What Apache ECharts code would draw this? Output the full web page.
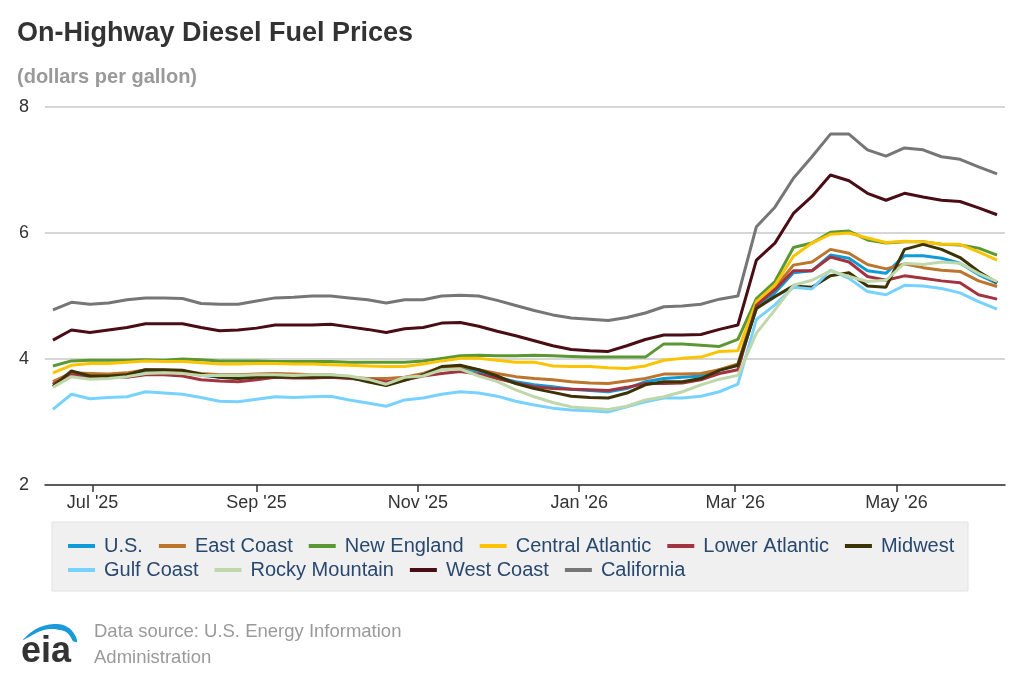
<!DOCTYPE html>
<html>
<head>
<meta charset="utf-8">
<title>On-Highway Diesel Fuel Prices</title>
<script src="https://cdn.jsdelivr.net/npm/echarts@6/dist/echarts.min.js"></script>
<style>
  html, body { margin: 0; padding: 0; background: #fff; }
  #chartsDiv { width: 1024px; height: 683px; }
</style>
</head>
<body>
<div id="chartsDiv"></div>
<script>
// weekly survey dates (Mondays)
var weeks = [
  '2025-06-16', '2025-06-23', '2025-06-30', '2025-07-07', '2025-07-14', '2025-07-21', '2025-07-28',
  '2025-08-04', '2025-08-11', '2025-08-18', '2025-08-25', '2025-09-01', '2025-09-08', '2025-09-15',
  '2025-09-22', '2025-09-29', '2025-10-06', '2025-10-13', '2025-10-20', '2025-10-27', '2025-11-03',
  '2025-11-10', '2025-11-17', '2025-11-24', '2025-12-01', '2025-12-08', '2025-12-15', '2025-12-22',
  '2025-12-29', '2026-01-05', '2026-01-12', '2026-01-19', '2026-01-26', '2026-02-02', '2026-02-09',
  '2026-02-16', '2026-02-23', '2026-03-02', '2026-03-09', '2026-03-16', '2026-03-23', '2026-03-30',
  '2026-04-06', '2026-04-13', '2026-04-20', '2026-04-27', '2026-05-04', '2026-05-11', '2026-05-18',
  '2026-05-25', '2026-06-01', '2026-06-08'
]
var tickDates = ['2025-07-01', '2025-09-01', '2025-11-01', '2026-01-01', '2026-03-01', '2026-05-01']
var axisStart = '2025-06-13'
var axisEnd = '2026-06-11'
var priceTicks = [2, 4, 6, 8]

var usPrices = [3.59, 3.77, 3.73, 3.73, 3.75, 3.80, 3.80, 3.79, 3.74, 3.71, 3.70, 3.72, 3.73, 3.72, 3.71, 3.72, 3.70, 3.66, 3.62, 3.69, 3.76, 3.87, 3.86, 3.80, 3.71, 3.64, 3.59, 3.56, 3.52, 3.50, 3.48, 3.53, 3.64, 3.69, 3.71, 3.73, 3.83, 3.90, 4.80, 5.05, 5.37, 5.40, 5.65, 5.60, 5.40, 5.36, 5.64, 5.64, 5.60, 5.52, 5.34, 5.20]
var eastCoast = [3.64, 3.78, 3.77, 3.76, 3.78, 3.83, 3.82, 3.81, 3.77, 3.75, 3.75, 3.76, 3.77, 3.76, 3.75, 3.75, 3.71, 3.69, 3.69, 3.71, 3.77, 3.87, 3.88, 3.83, 3.77, 3.72, 3.69, 3.67, 3.64, 3.62, 3.61, 3.65, 3.69, 3.76, 3.76, 3.77, 3.83, 3.92, 4.88, 5.13, 5.49, 5.54, 5.74, 5.68, 5.50, 5.43, 5.51, 5.45, 5.41, 5.39, 5.24, 5.15]
var newEngland = [3.89, 3.97, 3.98, 3.98, 3.98, 3.99, 3.98, 4.00, 3.99, 3.97, 3.97, 3.97, 3.96, 3.96, 3.96, 3.96, 3.95, 3.95, 3.95, 3.95, 3.97, 4.01, 4.05, 4.06, 4.05, 4.05, 4.06, 4.05, 4.04, 4.03, 4.03, 4.03, 4.03, 4.24, 4.24, 4.22, 4.20, 4.31, 4.96, 5.23, 5.77, 5.84, 6.01, 6.03, 5.89, 5.84, 5.86, 5.86, 5.82, 5.81, 5.76, 5.65]
var centralAtlantic = [3.78, 3.90, 3.93, 3.93, 3.95, 3.97, 3.96, 3.96, 3.94, 3.92, 3.92, 3.93, 3.93, 3.92, 3.92, 3.91, 3.90, 3.89, 3.88, 3.88, 3.92, 3.97, 4.01, 4.01, 3.98, 3.95, 3.95, 3.89, 3.88, 3.88, 3.86, 3.85, 3.89, 3.98, 4.01, 4.03, 4.12, 4.13, 4.91, 5.17, 5.63, 5.84, 5.98, 6.00, 5.92, 5.85, 5.87, 5.86, 5.82, 5.82, 5.70, 5.57]
var lowerAtlantic = [3.60, 3.75, 3.72, 3.71, 3.71, 3.75, 3.75, 3.73, 3.67, 3.65, 3.64, 3.67, 3.71, 3.70, 3.70, 3.71, 3.69, 3.68, 3.64, 3.67, 3.73, 3.77, 3.80, 3.76, 3.69, 3.62, 3.56, 3.53, 3.52, 3.51, 3.50, 3.55, 3.61, 3.61, 3.62, 3.67, 3.77, 3.83, 4.85, 5.10, 5.40, 5.40, 5.62, 5.54, 5.31, 5.25, 5.32, 5.28, 5.24, 5.21, 5.02, 4.95]
var midwest = [3.56, 3.81, 3.73, 3.73, 3.75, 3.83, 3.83, 3.82, 3.76, 3.71, 3.69, 3.71, 3.72, 3.71, 3.71, 3.72, 3.71, 3.64, 3.58, 3.66, 3.75, 3.88, 3.90, 3.83, 3.73, 3.61, 3.53, 3.47, 3.41, 3.39, 3.38, 3.46, 3.59, 3.64, 3.64, 3.69, 3.82, 3.90, 4.80, 4.99, 5.16, 5.14, 5.32, 5.37, 5.16, 5.14, 5.74, 5.82, 5.74, 5.61, 5.39, 5.21]
var gulfCoast = [3.20, 3.44, 3.37, 3.39, 3.40, 3.48, 3.46, 3.44, 3.39, 3.33, 3.32, 3.36, 3.40, 3.39, 3.40, 3.41, 3.35, 3.30, 3.25, 3.35, 3.38, 3.44, 3.48, 3.46, 3.41, 3.33, 3.27, 3.22, 3.19, 3.18, 3.16, 3.24, 3.32, 3.38, 3.38, 3.41, 3.48, 3.60, 4.63, 4.86, 5.14, 5.11, 5.41, 5.28, 5.07, 5.02, 5.17, 5.16, 5.12, 5.05, 4.91, 4.79]
var rockyMountain = [3.55, 3.72, 3.68, 3.69, 3.72, 3.77, 3.78, 3.77, 3.74, 3.74, 3.74, 3.75, 3.75, 3.74, 3.75, 3.75, 3.73, 3.68, 3.60, 3.71, 3.73, 3.83, 3.84, 3.73, 3.64, 3.51, 3.40, 3.31, 3.24, 3.22, 3.20, 3.25, 3.35, 3.40, 3.48, 3.59, 3.68, 3.74, 4.41, 4.78, 5.17, 5.25, 5.40, 5.31, 5.23, 5.25, 5.52, 5.50, 5.54, 5.52, 5.36, 5.23]
var westCoast = [4.30, 4.46, 4.42, 4.46, 4.50, 4.56, 4.56, 4.56, 4.50, 4.45, 4.46, 4.49, 4.54, 4.54, 4.54, 4.55, 4.51, 4.47, 4.42, 4.48, 4.50, 4.57, 4.58, 4.52, 4.44, 4.37, 4.29, 4.21, 4.15, 4.13, 4.12, 4.21, 4.31, 4.38, 4.38, 4.39, 4.47, 4.54, 5.57, 5.84, 6.31, 6.58, 6.92, 6.83, 6.63, 6.52, 6.63, 6.57, 6.52, 6.50, 6.40, 6.29]
var california = [4.78, 4.90, 4.87, 4.89, 4.94, 4.97, 4.97, 4.96, 4.88, 4.87, 4.87, 4.92, 4.97, 4.98, 5.00, 5.00, 4.97, 4.94, 4.89, 4.94, 4.94, 5.00, 5.01, 5.00, 4.93, 4.85, 4.77, 4.70, 4.65, 4.63, 4.61, 4.66, 4.73, 4.83, 4.84, 4.87, 4.95, 5.00, 6.10, 6.41, 6.87, 7.21, 7.57, 7.57, 7.32, 7.22, 7.35, 7.32, 7.21, 7.17, 7.05, 6.94]

var seriesNames = ['U.S.', 'East Coast', 'New England', 'Central Atlantic', 'Lower Atlantic', 'Midwest', 'Gulf Coast', 'Rocky Mountain', 'West Coast', 'California']
var seriesValues = [usPrices, eastCoast, newEngland, centralAtlantic, lowerAtlantic, midwest, gulfCoast, rockyMountain, westCoast, california]
var seriesColors = ['#0e9bd8', '#bd742d', '#5b9833', '#fcc400', '#a2333f', '#3b3205', '#78d2ff', '#bfd8ab', '#4a0d15', '#767676']

var monthNames = ['Jan', 'Feb', 'Mar', 'Apr', 'May', 'Jun', 'Jul', 'Aug', 'Sep', 'Oct', 'Nov', 'Dec']
var fontFamily = '"Liberation Sans", Arial, Helvetica, sans-serif'

// parse 'YYYY-MM-DD' as local midnight
var toTime = function(s) {
  var p = s.split('-')
  return new Date(+p[0], +p[1] - 1, +p[2]).getTime()
}

var realChart
var initChart = function() {
  realChart = echarts.init(document.getElementById('chartsDiv'), null, {
    renderer: 'canvas'
  })

  var series = seriesNames.map(function(name, k) {
    return {
      name: name,
      type: 'line',
      showSymbol: false,
      symbol: 'none',
      color: seriesColors[k],
      lineStyle: { width: 3, color: seriesColors[k] },
      emphasis: { disabled: true },
      data: weeks.map(function(w, i) {
        return [toTime(w), seriesValues[k][i]]
      })
    }
  })

  var legendBase = {
    orient: 'horizontal',
    left: 68,
    padding: 0,
    itemGap: 16,
    itemWidth: 27,
    itemHeight: 4,
    icon: 'rect',
    selectedMode: false,
    textStyle: {
      color: '#29486e',
      fontSize: 20,
      fontFamily: fontFamily,
      padding: [0, 0, 0, 4]
    }
  }

  var option = {
    animation: false,
    title: [
      {
        text: 'On-Highway Diesel Fuel Prices',
        left: 17,
        top: 20,
        padding: 0,
        textStyle: {
          color: '#333333',
          fontSize: 27,
          fontWeight: 'bold',
          fontFamily: fontFamily
        }
      },
      {
        text: '(dollars per gallon)',
        left: 17,
        top: 67,
        padding: 0,
        textStyle: {
          color: '#999999',
          fontSize: 20,
          fontWeight: 'bold',
          fontFamily: fontFamily
        }
      }
    ],
    legend: [
      Object.assign({}, legendBase, { top: 536, data: seriesNames.slice(0, 6) }),
      Object.assign({}, legendBase, { top: 560, data: seriesNames.slice(6) })
    ],
    grid: {
      left: 45,
      right: 19,
      top: 107,
      bottom: 198,
      containLabel: false
    },
    xAxis: {
      // dates as timestamps on a numeric axis, ticks at the first of every other month
      type: 'value',
      min: toTime(axisStart),
      max: toTime(axisEnd),
      axisLine: {
        show: true,
        lineStyle: { color: '#333333', width: 1.5 }
      },
      axisTick: {
        show: true,
        length: 7,
        customValues: tickDates.map(toTime),
        lineStyle: { color: '#333333', width: 1.5 }
      },
      axisLabel: {
        customValues: tickDates.map(toTime),
        color: '#333333',
        fontSize: 18,
        fontFamily: fontFamily,
        margin: 9,
        formatter: function(value) {
          var d = new Date(value)
          return monthNames[d.getMonth()] + " '" + String(d.getFullYear()).slice(2)
        }
      },
      splitLine: { show: false }
    },
    yAxis: {
      type: 'value',
      min: priceTicks[0],
      max: priceTicks[priceTicks.length - 1],
      interval: 2,
      axisLine: { show: false },
      axisTick: { show: false },
      axisLabel: {
        color: '#333333',
        fontSize: 18,
        fontFamily: fontFamily,
        margin: 16
      },
      splitLine: {
        show: true,
        lineStyle: { color: '#c8c8c8', width: 1.5 }
      }
    },
    graphic: [
      {
        type: 'rect',
        z: -10,
        shape: { x: 52, y: 522, width: 916, height: 69 },
        style: { fill: '#f0f0f0', stroke: '#e2e2e2', lineWidth: 1 }
      },
      {
        // eia logo swoosh
        type: 'polygon',
        shape: {
          points: [
            [23, 640], [30, 633], [38, 628], [47, 625], [56, 624], [63, 625], [69, 628],
            [73, 632], [76, 637], [77, 642],
            [73, 641], [70, 636], [66, 632], [60, 630], [52, 629], [44, 630], [36, 633], [29, 637]
          ],
          smooth: 0.3
        },
        style: { fill: '#1a9ad9' }
      },
      {
        type: 'text',
        left: 21,
        top: 634,
        style: {
          text: 'eia',
          fill: '#333333',
          font: 'bold 36px ' + fontFamily
        }
      },
      {
        type: 'text',
        left: 94,
        top: 619,
        style: {
          text: 'Data source: U.S. Energy Information\nAdministration',
          fill: '#9a9a9a',
          font: '18.5px ' + fontFamily,
          lineHeight: 26
        }
      }
    ],
    series: series
  }

  realChart.setOption(option)
}

initChart()
</script>
</body>
</html>
